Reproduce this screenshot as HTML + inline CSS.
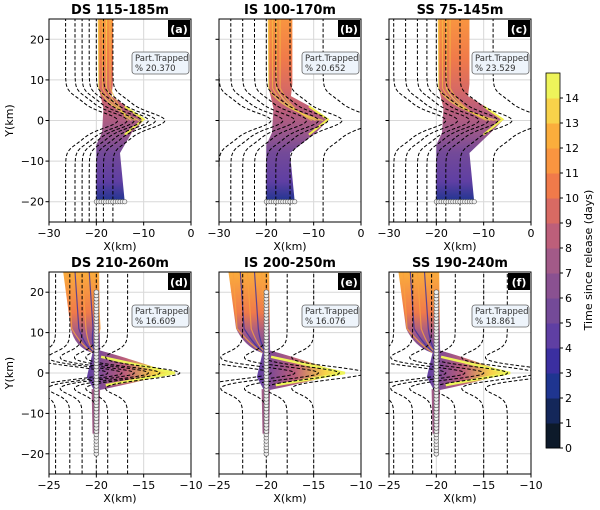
<!DOCTYPE html>
<html><head><meta charset="utf-8"><style>
body{margin:0;background:#fff}
svg{display:block;font-family:"DejaVu Sans","Liberation Sans",sans-serif}
</style></head><body>
<svg id="fig" width="600" height="510" viewBox="0 0 600 510"></svg>
<script>
// ---- data ----
const panelTitles = ["DS 115-185m","IS 100-170m","SS 75-145m","DS 210-260m","IS 200-250m","SS 190-240m"];
const panelLetters = ["(a)","(b)","(c)","(d)","(e)","(f)"];
const trappedPct = ["20.370","20.652","23.529","16.609","16.076","18.861"];
const topXTicks = [-30,-20,-10,0];
const botXTicks = [-25,-20,-15,-10];
const yTicks = [-20,-10,0,10,20];
const cbTicks = [0,1,2,3,4,5,6,7,8,9,10,11,12,13,14];
const cbColors = ["#0d1a2a","#14275a","#1f3590","#3b2fa0","#5f3fa3","#744a98","#8a5191","#a25a88","#bd5f7a","#d86a63","#f07a4a","#f99540","#fbad3c","#f8d24a","#eef45a"];
const contourX0 = [
 [-26.5,-24.5,-23,-21.5,-20,-18.5,-16.5],
 [-30,-27.5,-25,-22.5,-20,-18,-15,-8],
 [-29,-26.5,-24,-22,-20,-18,-15,-8],
 [-24.3,-22.8,-21.5,-20,-18.8,-16.7],
 [-25,-22.5,-20,-17.8,-15],
 [-24.5,-22.5,-20.5,-18,-15,-12.5]
];
const plumeTip = [-10,-7,-6,-12,-12,-12.5];
const plumeRight = [-16.5,-14.5,-13,-19.7,-19.7,-19.7];
const plumeLeft = [-20,-20,-20,-23.5,-24,-24];
const plumeBottomRight = [-14,-14,-12,0,0,0];

const NS="http://www.w3.org/2000/svg";
const svg=document.getElementById('fig');
function el(t,a,par){const e=document.createElementNS(NS,t);for(const k in a)e.setAttribute(k,a[k]);(par||svg).appendChild(e);return e;}

const defs=el('defs',{});
const gTop=el('linearGradient',{id:'gtop',x1:0,y1:1,x2:0,y2:0},defs);
[[0,cbColors[2]],[0.11,cbColors[4]],[0.27,cbColors[5]],[0.4,cbColors[7]],[0.51,cbColors[8]],[0.62,cbColors[9]],[0.78,cbColors[10]],[1,cbColors[11]]].forEach(s=>el('stop',{offset:s[0],'stop-color':s[1]},gTop));
const gBot=el('linearGradient',{id:'gbot',x1:0,y1:1,x2:0,y2:0},defs);
[[0,cbColors[5]],[0.25,cbColors[7]],[0.5,cbColors[10]],[1,cbColors[12]]].forEach(s=>el('stop',{offset:s[0],'stop-color':s[1]},gBot));
const gSpk=el('linearGradient',{id:'gspk',x1:0,y1:0,x2:1,y2:0},defs);
[[0,cbColors[4]],[0.45,cbColors[8]],[0.8,cbColors[13]],[1,cbColors[14]]].forEach(s=>el('stop',{offset:s[0],'stop-color':s[1]},gSpk));

const lefts=[49,219,389];
const rows=[{top:19,bot:222,xmin:-30,xmax:0,ticks:topXTicks},{top:272,bot:474,xmin:-25,xmax:-10,ticks:botXTicks}];
const W=142;

for(let p=0;p<6;p++){
  const r=rows[Math.floor(p/3)], L=lefts[p%3], bottom=p>=3;
  const X=v=>L+(v-r.xmin)/(r.xmax-r.xmin)*W;
  const Y=v=>r.bot-(v+25)/50*(r.bot-r.top);
  const g=el('g',{});
  
  
  const clip=el('clipPath',{id:'c'+p},defs);
  el('rect',{x:L,y:r.top,width:W,height:r.bot-r.top},clip);
  r.ticks.forEach(t=>el('line',{x1:X(t),x2:X(t),y1:r.top,y2:r.bot,stroke:'#d8d8d8','stroke-width':1},g));
  yTicks.forEach(t=>el('line',{x1:L,x2:L+W,y1:Y(t),y2:Y(t),stroke:'#d8d8d8','stroke-width':1},g));
  const cg=el('g',{'clip-path':'url(#c'+p+')'},g);
  let d='';
  if(!bottom){
    const pl=[[plumeLeft[p],-20],[plumeLeft[p],-6],[-18.8,-3],[-18.5,3],[-19.5,8],[-19.7,25]];
    const pr=[[plumeRight[p],25],[plumeRight[p],9],[plumeRight[p]-0.3,6],[plumeTip[p]-3,3],[plumeTip[p],0],[plumeTip[p]-2.5,-3],[plumeBottomRight[p]-1,-8],[plumeBottomRight[p],-20]];
    d='M'+pl.map(q=>X(q[0])+','+Y(q[1])).join(' L')+' L'+pr.map(q=>X(q[0])+','+Y(q[1])).join(' L')+'Z';
    const pe=el('path',{d:d,fill:'url(#gtop)'},cg);
    
    
    for(let k=0;k<4;k++){const xs=-19.5+k*0.8;
      el('path',{d:`M${X(xs)},${Y(25)} L${X(xs)},${Y(8)} Q${X(xs+2)},${Y(3)} ${X(plumeTip[p]-1-k*0.8)},${Y(0)}`,stroke:k%2?'#f2c040':'#f5e84a','stroke-width':1.1,fill:'none',opacity:0.7},cg);}
    el('path',{d:`M${X(plumeTip[p]-4)},${Y(3.5)} L${X(plumeTip[p])},${Y(0.3)} L${X(plumeTip[p]-4)},${Y(-3.5)}`,stroke:'#f0f050','stroke-width':2,fill:'none'},cg);
  } else {
    const topL=plumeLeft[p], topR=plumeRight[p];
    d=`M${X(topL)},${Y(25)} L${X(topL+0.8)},${Y(11)} Q${X(-22.3)},${Y(6.5)} ${X(-20.5)},${Y(5)} L${X(-19.6)},${Y(5)} L${X(topR)},${Y(25)}Z`;
    const pe=el('path',{d:d,fill:'url(#gbot)'},cg);
    
    
    for(let k=0;k<5;k++){const xs=topL+0.5+k*0.75;
      el('path',{d:`M${X(xs)},${Y(25)} L${X(xs+0.4)},${Y(11)} Q${X(-21.5+k*0.3)},${Y(6.5)} ${X(-20.3+k*0.12)},${Y(5)}`,stroke:k%2?'#3b2fa0':'#f9a040','stroke-width':1.2,fill:'none',opacity:0.8},cg);}
    const sp=el('path',{d:`M${X(-20.3)},${Y(6)} Q${X(-17)},${Y(4)} ${X(plumeTip[p])},${Y(0)} Q${X(-16)},${Y(-2.5)} ${X(-20.2)},${Y(-4.5)} L${X(-21)},${Y(-1)}Z`,fill:'url(#gspk)'},cg);
    
    
    el('path',{d:`M${X(-19.5)},${Y(4)} L${X(plumeTip[p]+0.3)},${Y(0)} L${X(-19)},${Y(-3)}`,stroke:'#eef45a','stroke-width':2.5,fill:'none'},cg);
    el('path',{d:`M${X(-20.5)},${Y(-4)} L${X(-20.4)},${Y(-15)} L${X(-19.7)},${Y(-15)} L${X(-19.6)},${Y(-4)}Z`,fill:cbColors[7]},cg);
  }
  contourX0[p].forEach(x0=>{
    let pts=[];
    for(let y=-25;y<=25.01;y+=0.25){
      let ay=Math.abs(y),x;
      if(!bottom){const S=1/(1+Math.exp((ay-6)/0.9));x=x0+4*S+7*Math.exp(-((y/2.6)**2));}
      else{const S=1/(1+Math.exp((ay-5)/0.9));x=x0-3.5*S+9*Math.exp(-((y/2.2)**2));}
      pts.push(X(x).toFixed(1)+','+Y(y).toFixed(1));}
    const c=el('polyline',{points:pts.join(' '),fill:'none',stroke:'#000','stroke-width':1,'stroke-dasharray':'3.5,2'},cg);
    
    
  });
  if(!bottom){for(let x=-20;x<=plumeBottomRight[p]+0.01;x+=0.5)el('circle',{cx:X(x),cy:Y(-20),r:2.2,fill:'#eee',stroke:'#555','stroke-width':0.6},cg);}
  else{for(let y=-20;y<=20.01;y+=0.8)el('circle',{cx:X(-20),cy:Y(y),r:2.4,fill:'#eee',stroke:'#555','stroke-width':0.6},cg);}
  el('rect',{x:L,y:r.top,width:W,height:r.bot-r.top,fill:'none',stroke:'#000','stroke-width':1},g);
  r.ticks.forEach(t=>{el('line',{x1:X(t),x2:X(t),y1:r.bot,y2:r.bot+3.5,stroke:'#000'},g);
    const tx=el('text',{x:X(t),y:r.bot+15,'text-anchor':'middle','font-size':11},g);tx.textContent=String(t).replace('-','\u2212');});
  const xl=el('text',{x:L+W/2,y:r.bot+28,'text-anchor':'middle','font-size':11},g);xl.textContent='X(km)';
  
  yTicks.forEach(t=>{el('line',{x1:L,x2:L-3.5,y1:Y(t),y2:Y(t),stroke:'#000'},g);
    if(p%3===0){const ty=el('text',{x:L-5,y:Y(t)+4,'text-anchor':'end','font-size':11},g);ty.textContent=String(t).replace('-','\u2212');}});
  if(p%3===0){const yl=el('text',{x:13,y:(r.top+r.bot)/2,'text-anchor':'middle','font-size':11,transform:`rotate(-90 13 ${(r.top+r.bot)/2})`},g);yl.textContent='Y(km)';
    }
  const ti=el('text',{x:L+W/2,y:r.top-5,'text-anchor':'middle','font-size':13,'font-weight':'bold'},g);ti.textContent=panelTitles[p];
  
  el('rect',{x:L+W-23,y:r.top+1,width:22,height:17,fill:'#000'},g);
  const lt=el('text',{x:L+W-12,y:r.top+14,'text-anchor':'middle','font-size':11,'font-weight':'bold',fill:'#fff'},g);lt.textContent=panelLetters[p];
  
  const bx=el('g',{},g);
  
  el('rect',{x:L+83,y:r.top+33,width:57,height:22,rx:3,fill:'#eef4fb',stroke:'#666','stroke-width':0.8},bx);
  const t1=el('text',{x:L+86,y:r.top+42,'font-size':8.5,fill:'#333'},bx);t1.textContent='Part.Trapped';
  const t2=el('text',{x:L+86,y:r.top+52,'font-size':8.5,fill:'#333'},bx);t2.textContent='% '+trappedPct[p];
}
const cb=el('g',{});

const cbTop=73,cbBot=448,cbX=546,cbW=14,step=(cbBot-cbTop)/cbColors.length;
cbColors.forEach((c,i)=>el('rect',{x:cbX,y:cbBot-(i+1)*step,width:cbW,height:step+0.5,fill:c},cb));
el('rect',{x:cbX,y:cbTop,width:cbW,height:cbBot-cbTop,fill:'none',stroke:'#000','stroke-width':0.8},cb);
cbTicks.forEach(t=>{const y=cbBot-t*step;el('line',{x1:cbX+cbW,x2:cbX+cbW+3,y1:y,y2:y,stroke:'#000'},cb);
  const tx=el('text',{x:cbX+cbW+5,y:y+4,'font-size':11},cb);tx.textContent=t;});
const cl=el('text',{x:592,y:260,'text-anchor':'middle','font-size':11,transform:'rotate(-90 592 260)'},cb);cl.textContent='Time since release (days)';
</script>
</body></html>
